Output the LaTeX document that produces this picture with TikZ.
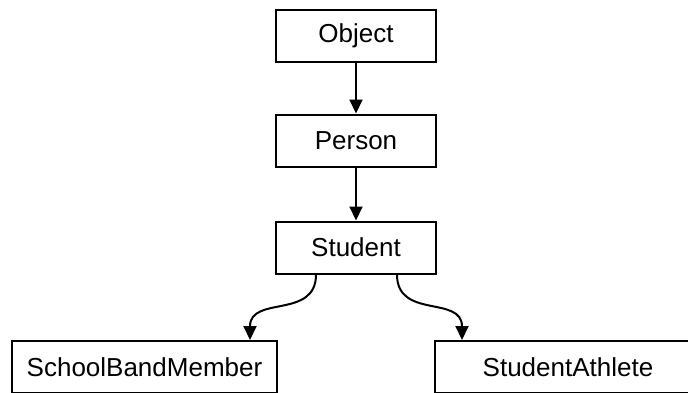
\documentclass[tikz,border=0pt]{standalone}
\usepackage{fontspec}
\setmainfont{Liberation Sans}
\usetikzlibrary{arrows.meta}
\begin{document}
\begin{tikzpicture}[x=1pt, y=-1pt,
    classStyle/.style={draw, line width=2pt, minimum height=52pt, inner sep=0pt, font=\fontsize{26}{30}\selectfont},
    arrowStyle/.style={line width=2pt, -{Triangle[width=13pt, length=14pt]}}]
    \useasboundingbox (0,0) rectangle (688,392);
    \begin{scope}
    \clip (0,0) rectangle (688,392);
    \node[classStyle, minimum width=160pt](object) at (356, 36) {Object};
    \node[classStyle, minimum width=160pt](person) at (356, 140.5) {Person};
    \node[classStyle, minimum width=160pt](student) at (356, 247.5) {Student};
    \node[classStyle, minimum width=265pt](band) at (144.5, 367) {SchoolBandMember};
    \node[classStyle, minimum width=266pt](athlete) at (568, 367) {StudentAthlete};

    \draw[arrowStyle] (object) -- (person);
    \draw[arrowStyle] (person) -- (student);
    \draw[arrowStyle] ([xshift=-40pt]student.south) .. controls +(0,45) and +(0,-45) .. ([xshift=105.5pt]band.north);
    \draw[arrowStyle] ([xshift=41pt]student.south) .. controls +(0,45) and +(0,-45) .. ([xshift=-106pt]athlete.north);
    \end{scope}
\end{tikzpicture}
\end{document}
